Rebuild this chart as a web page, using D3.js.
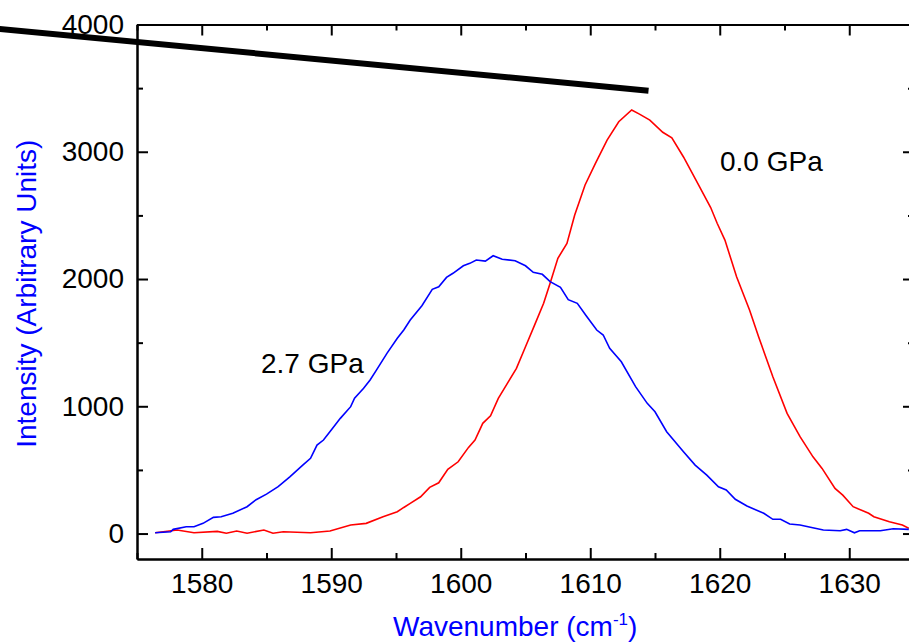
<!DOCTYPE html>
<html>
<head>
    <title>Raman spectra vs pressure</title>
    <script src="https://cdnjs.cloudflare.com/ajax/libs/d3/7.8.5/d3.min.js"></script>
    <style>
        body { margin: 0; background: #fff; }
        svg text { font-family: "Liberation Sans", Arial, sans-serif; }
        .axis path, .axis line { stroke: #000; stroke-width: 2px; }
        .axis text { font-size: 28px; fill: #000; }
        .title { font-size: 28px; fill: #0000ff; }
        .label { font-size: 28px; fill: #000; }
    </style>
</head>
<body>
    <div id="chart"></div>
    <script>
        // 2.7 GPa spectrum (wavenumber, intensity)
        const blueX = [1576.4, 1577.6, 1577.8, 1578.8, 1579.4, 1580.1, 1580.9, 1581.5, 1582.4, 1583.5,
            1584.2, 1585.0, 1585.9, 1586.8, 1587.8, 1588.4, 1588.9, 1589.4, 1590.0, 1590.7,
            1591.5, 1591.8, 1592.5, 1593.0, 1593.5, 1594.3, 1595.1, 1595.6, 1596.1, 1597.0,
            1597.8, 1598.3, 1598.9, 1599.4, 1600.2, 1600.7, 1601.2, 1601.9, 1602.5, 1603.2,
            1604.2, 1605.0, 1605.6, 1606.3, 1606.9, 1607.7, 1608.3, 1609.0, 1609.7, 1610.5,
            1611.0, 1611.5, 1612.4, 1613.5, 1614.4, 1615.0, 1615.9, 1617.2, 1618.1, 1619.0,
            1619.9, 1620.5, 1621.2, 1622.1, 1623.4, 1624.1, 1624.7, 1625.4, 1626.2, 1627.0,
            1628.0, 1629.3, 1629.8, 1630.4, 1630.8, 1632.4, 1633.4, 1634.6];
        const blueY = [6, 14, 33, 53, 53, 80, 127, 132, 159, 211,
            266, 310, 368, 446, 538, 591, 695, 735, 813, 905,
            997, 1063, 1141, 1207, 1286, 1416, 1534, 1599, 1678, 1790,
            1919, 1939, 2013, 2045, 2104, 2123, 2149, 2141, 2183, 2155,
            2144, 2104, 2053, 2037, 1979, 1935, 1838, 1809, 1709, 1599,
            1560, 1455, 1350, 1154, 1023, 957, 800, 643, 538, 459,
            368, 342, 269, 216, 159, 112, 112, 75, 67, 49,
            28, 22, 33, 6, 22, 22, 38, 33];

        // 0.0 GPa spectrum
        const redX = [1576.4, 1578.1, 1579.4, 1581.2, 1581.9, 1582.7, 1583.5, 1584.8, 1585.5, 1586.3,
            1588.4, 1589.9, 1591.5, 1592.7, 1594.0, 1595.1, 1595.6, 1596.1, 1596.9, 1597.6,
            1598.3, 1599.0, 1599.8, 1600.6, 1601.1, 1601.7, 1602.3, 1602.9, 1603.6, 1604.3,
            1605.0, 1605.7, 1606.4, 1606.9, 1607.5, 1608.2, 1608.8, 1609.6, 1610.4, 1611.3,
            1612.2, 1613.2, 1613.8, 1614.6, 1615.6, 1616.3, 1617.2, 1618.3, 1619.3, 1619.8,
            1620.4, 1621.3, 1622.3, 1623.0, 1624.1, 1625.2, 1626.2, 1627.2, 1627.9, 1628.9,
            1629.5, 1630.3, 1631.5, 1631.9, 1633.1, 1634.1, 1634.6];
        const redY = [6, 28, 6, 17, 2, 20, 2, 28, 2, 14,
            6, 20, 67, 80, 132, 171, 205, 237, 289, 363,
            399, 504, 564, 677, 735, 866, 926, 1062, 1180, 1298,
            1468, 1638, 1809, 1966, 2163, 2280, 2503, 2739, 2909, 3092,
            3236, 3328, 3296, 3249, 3153, 3110, 2959, 2752, 2562, 2438,
            2306, 2018, 1756, 1546, 1232, 944, 761, 603, 512, 355,
            302, 211, 159, 132, 93, 67, 41];

        // thick black annotation line
        const markerX = [1564.4, 1614.5];
        const markerY = [3965, 3480];

        const xMajor = [1580, 1590, 1600, 1610, 1620, 1630];
        const xMinor = [1575, 1585, 1595, 1605, 1615, 1625, 1635];
        const yMajor = [0, 1000, 2000, 3000, 4000];
        const yMinor = [500, 1500, 2500, 3500];

        const W = 909, H = 642;
        const pLeft = 137, pRight = 914, pTop = 24.5, pBottom = 559;

        const svg = d3.select("#chart").append("svg")
            .attr("width", W).attr("height", H);

        const x = d3.scaleLinear().domain([1575, 1635]).range([pLeft, pRight]);
        const y = d3.scaleLinear().domain([-200, 4000]).range([pBottom, pTop]);

        svg.append("clipPath").attr("id", "plot")
            .append("rect").attr("x", pLeft).attr("y", pTop)
            .attr("width", pRight - pLeft).attr("height", pBottom - pTop);

        // curves
        const line = d3.line().x(d => x(d[0])).y(d => y(d[1]));
        const series = [
            {xs: redX, ys: redY, color: "#ff0000"},
            {xs: blueX, ys: blueY, color: "#0000ff"}
        ];
        series.forEach(s => {
            svg.append("path")
                .datum(s.xs.map((v, i) => [v, s.ys[i]]))
                .attr("clip-path", "url(#plot)")
                .attr("fill", "none")
                .attr("stroke", s.color)
                .attr("stroke-width", 1.6)
                .attr("d", line);
        });

        // axes: major and minor ticks point inward
        function addAxis(gen, tr, values, size, labels) {
            return svg.append("g").attr("class", "axis")
                .attr("transform", tr)
                .call(gen.tickValues(values).tickSizeInner(size).tickSizeOuter(0)
                    .tickFormat(labels ? d3.format("d") : ""));
        }
        addAxis(d3.axisBottom(x).tickPadding(14), `translate(0,${pBottom})`, xMajor, -11, true);
        addAxis(d3.axisBottom(x), `translate(0,${pBottom})`, xMinor, -6, false);
        addAxis(d3.axisTop(x), `translate(0,${pTop})`, xMajor, -11, false);
        addAxis(d3.axisTop(x), `translate(0,${pTop})`, xMinor, -6, false);
        addAxis(d3.axisLeft(y).tickPadding(13), `translate(${pLeft},0)`, yMajor, -11, true);
        addAxis(d3.axisLeft(y), `translate(${pLeft},0)`, yMinor, -6, false);
        addAxis(d3.axisRight(y), `translate(${pRight},0)`, yMajor, -11, false);
        addAxis(d3.axisRight(y), `translate(${pRight},0)`, yMinor, -6, false);
        svg.selectAll(".axis path.domain").attr("fill", "none");

        // annotation line drawn on top
        svg.append("line")
            .attr("x1", x(markerX[0])).attr("y1", y(markerY[0]))
            .attr("x2", x(markerX[1])).attr("y2", y(markerY[1]))
            .attr("stroke", "#000").attr("stroke-width", 6);

        // series labels
        svg.append("text").attr("class", "label")
            .attr("x", 720).attr("y", 171).text("0.0 GPa");
        svg.append("text").attr("class", "label")
            .attr("x", 261).attr("y", 373).text("2.7 GPa");

        // axis titles
        const xt = svg.append("text").attr("class", "title")
            .attr("x", 393).attr("y", 636);
        xt.append("tspan").text("Wavenumber (cm");
        xt.append("tspan").attr("dy", -11).style("font-size", "17px").text("-1");
        xt.append("tspan").attr("dy", 11).text(")");

        svg.append("text").attr("class", "title")
            .attr("text-anchor", "middle")
            .attr("transform", `translate(36,${(pTop + pBottom) / 2 + 2}) rotate(-90)`)
            .text("Intensity (Arbitrary Units)");
    </script>
</body>
</html>
